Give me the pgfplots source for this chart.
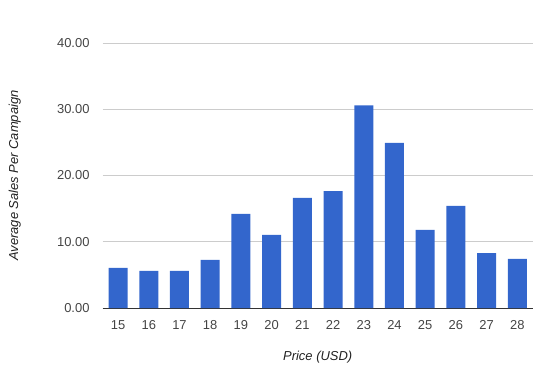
\documentclass[border=0pt]{standalone}
\usepackage{pgfplots}
\pgfplotsset{compat=1.18}
\usepackage{fontspec}
\setmainfont{Liberation Sans}
\definecolor{barblue}{HTML}{3366CC}
\definecolor{gridgray}{HTML}{CCCCCC}
\definecolor{axisdark}{HTML}{333333}
\definecolor{labgray}{HTML}{444444}
\begin{document}
\begin{tikzpicture}
\useasboundingbox (-102.7bp,-66bp) rectangle (438.3bp,308bp);
\begin{axis}[
  at={(0,0)}, anchor=south west,
  scale only axis, width=430bp, height=265bp,
  xmin=-0.5, xmax=13.5, ymin=0, ymax=40,
  ybar, bar width=19bp,
  xtick={0,...,13},
  xticklabels={15,16,17,18,19,20,21,22,23,24,25,26,27,28},
  ytick={0,10,20,30,40},
  ymajorgrids, grid style={gridgray, line width=0.8pt},
  axis x line*=bottom, axis y line*=left,
  x axis line style={axisdark, line width=1pt, -},
  y axis line style={draw=none},
  major tick length=0pt,
  tick style={draw=none},
  /pgf/number format/.cd, fixed, fixed zerofill, precision=2, assume math mode=true,
  /pgfplots/.cd,
  ticklabel style={font=\fontsize{13}{15}\selectfont, text=labgray},
  yticklabel style={anchor=east, inner sep=0pt, xshift=-13bp},
  xticklabel style={anchor=north, inner sep=0pt, yshift=-12.4bp},
  xlabel={\itshape Price (USD)},
  ylabel={\itshape Average Sales Per Campaign},
  label style={font=\fontsize{13}{15}\selectfont, text=black!87},
  xlabel style={at={(axis description cs:0.5,-0.1849)}, anchor=center},
  ylabel style={at={(axis description cs:-0.2047,0.5)}, anchor=center},
]
\addplot[fill=barblue, draw=none] coordinates {
  (0,6.04) (1,5.59) (2,5.59) (3,7.25) (4,14.19) (5,11.02) (6,16.61)
  (7,17.66) (8,30.6) (9,24.91) (10,11.78) (11,15.40) (12,8.30) (13,7.40)
};
\end{axis}
\end{tikzpicture}
\end{document}
